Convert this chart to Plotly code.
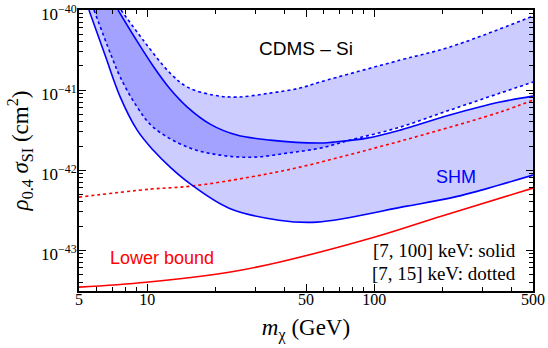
import plotly.graph_objects as go

# SHM band, [7, 100] keV (solid)
m_solid_low = [5.53, 6.51, 7.60, 9.02, 10.6, 12.6, 15.3, 22.9, 38.0, 55.9, 139, 215, 275, 500]
s_solid_low = [1.0e-40, 2.74e-41, 8.18e-42, 3.16e-42, 1.78e-42, 1.09e-42, 6.88e-43, 3.35e-43,
               2.37e-43, 2.24e-43, 3.55e-43, 4.47e-43, 5.31e-43, 8.66e-43]
m_solid_up = [7.43, 8.83, 10.6, 12.6, 15.0, 18.9, 24.8, 34.7, 57.6, 65.8, 92.8, 130, 215, 358, 500]
s_solid_up = [1.0e-40, 4.47e-41, 2.0e-41, 1.03e-41, 6.13e-42, 3.76e-42, 2.74e-42, 2.37e-42,
              2.18e-42, 2.24e-42, 2.51e-42, 3.16e-42, 4.87e-42, 7.08e-42, 8.41e-42]

# SHM band, [7, 15] keV (dotted)
m_dot_low = [5.82, 6.92, 7.60, 9.02, 10.6, 15.0, 20.9, 29.2, 41.2, 57.6, 78.1, 130, 215, 358, 500]
s_dot_low = [1.0e-40, 2.74e-41, 1.45e-41, 6.13e-42, 3.45e-42, 1.94e-42, 1.54e-42, 1.45e-42,
             1.63e-42, 1.88e-42, 2.37e-42, 3.45e-42, 5.62e-42, 9.17e-42, 1.26e-41]
m_dot_up = [7.66, 9.58, 12.6, 15.0, 19.5, 24.8, 34.7, 47.0, 57.6, 130, 215, 500]
s_dot_up = [1.0e-40, 4.22e-41, 1.63e-41, 1.09e-41, 8.66e-42, 8.18e-42, 9.17e-42, 1.06e-41,
            1.26e-41, 2.37e-41, 3.45e-41, 8.41e-41]

# lower bound
m_lb_dot = [5, 10.3, 15.6, 28.3, 47.0, 92.8, 181, 358, 500]
s_lb_dot = [4.60e-43, 5.79e-43, 6.31e-43, 8.18e-43, 1.09e-42, 1.78e-42, 2.99e-42, 5.31e-42, 7.50e-42]
m_lb_solid = [5, 9.87, 22.9, 38.0, 99.7, 197, 500]
s_lb_solid = [3.45e-44, 3.98e-44, 5.31e-44, 7.08e-44, 1.45e-43, 2.66e-43, 5.96e-43]

x_ticks = [5, 10, 50, 100, 500]
y_ticks = [1e-43, 1e-42, 1e-41, 1e-40]
y_ticktext = ["10<sup>−43</sup>", "10<sup>−42</sup>", "10<sup>−41</sup>", "10<sup>−40</sup>"]

BLUE = "rgb(0,0,255)"
RED = "rgb(255,0,0)"
FILL = "rgba(0,0,255,0.2)"
SERIF = "Liberation Serif, Times New Roman, serif"
SANS = "Liberation Sans, Arial, sans-serif"

X_RANGE = [0.69897, 2.69897]
Y_RANGE = [-43.51, -39.9995]

fig = go.Figure()

# filled bands (their overlap comes out darker)
for (xl, yl, xu, yu) in [(m_solid_low, s_solid_low, m_solid_up, s_solid_up),
                         (m_dot_low, s_dot_low, m_dot_up, s_dot_up)]:
    fig.add_trace(go.Scatter(x=xl, y=yl, mode="lines", line=dict(width=0, shape="spline"),
                             hoverinfo="skip"))
    fig.add_trace(go.Scatter(x=xu, y=yu, mode="lines", line=dict(width=0, shape="spline"),
                             fill="tonexty", fillcolor=FILL, hoverinfo="skip"))

curves = [
    (m_lb_dot, s_lb_dot, RED, "dot"),
    (m_lb_solid, s_lb_solid, RED, "solid"),
    (m_dot_low, s_dot_low, BLUE, "dot"),
    (m_dot_up, s_dot_up, BLUE, "dot"),
    (m_solid_low, s_solid_low, BLUE, "solid"),
    (m_solid_up, s_solid_up, BLUE, "solid"),
]
for xs, ys, col, dash in curves:
    fig.add_trace(go.Scatter(x=xs, y=ys, mode="lines",
                             line=dict(color=col, width=1.6, dash=dash, shape="spline"),
                             hoverinfo="skip"))

# empty trace so the top/right frame axes get drawn
fig.add_trace(go.Scatter(x=[], y=[], xaxis="x2", yaxis="y2", hoverinfo="skip"))

x_minor = [v * d for d in (1, 10, 100) for v in range(2, 10)]
y_minor = [v * 10.0 ** e for e in range(-44, -40) for v in range(2, 10)]

common = dict(
    ticks="inside", ticklen=7, tickwidth=1, tickcolor="black",
    showline=True, linecolor="black", linewidth=2,
    showgrid=False, zeroline=False, automargin=False,
)
x_common = dict(common, type="log", range=X_RANGE, tickvals=x_ticks,
                minor=dict(tickvals=x_minor, ticks="inside", ticklen=4, tickcolor="black", showgrid=False))
y_common = dict(common, type="log", range=Y_RANGE, tickvals=y_ticks,
                minor=dict(tickvals=y_minor, ticks="inside", ticklen=4, tickcolor="black", showgrid=False))

fig.update_layout(
    xaxis=dict(
        x_common, ticktext=[str(v) for v in x_ticks], ticklabelstandoff=-7,
        ticklabeloverflow="allow",
        tickfont=dict(family=SERIF, size=16, color="black"),
        title=dict(text="<i>m</i><sub>χ</sub> (GeV)", font=dict(family=SERIF, size=23, color="black"),
                   standoff=12),
    ),
    yaxis=dict(
        y_common, ticktext=y_ticktext, ticklabelstandoff=-3, ticklabelshift=4,
        ticklabeloverflow="allow",
        tickfont=dict(family=SERIF, size=17, color="black"),
        title=dict(text="<i>ρ</i><sub>0.4</sub> <i>σ</i><sub>SI</sub> (cm<sup>2</sup>)",
                   font=dict(family=SERIF, size=23, color="black"), standoff=6),
    ),
    xaxis2=dict(x_common, overlaying="x", side="top", showticklabels=False),
    yaxis2=dict(y_common, overlaying="y", side="right", showticklabels=False),
)


def px(xp, yp):
    return (xp - 79) / 454, (291 - yp) / 281


labels = [
    ("CDMS – Si", 306, 48, SANS, 19, "black", "center"),
    ("SHM", 456, 177, SANS, 18, BLUE, "center"),
    ("Lower bound", 162, 258, SANS, 18, RED, "center"),
    ("[7, 100] keV: solid", 518, 250, SERIF, 19, "black", "right"),
    ("[7, 15] keV: dotted", 518, 273, SERIF, 19, "black", "right"),
]
for text, xp, yp, fam, size, col, anchor in labels:
    ax, ay = px(xp, yp)
    fig.add_annotation(x=ax, y=ay, xref="paper", yref="paper", text=text, showarrow=False,
                       xanchor=anchor, yanchor="middle", font=dict(family=fam, size=size, color=col))

fig.update_layout(
    width=548, height=348,
    margin=dict(l=79, r=15, t=10, b=57),
    paper_bgcolor="white", plot_bgcolor="white",
    showlegend=False,
)

fig.write_html("out.html", config={"displayModeBar": False},
               post_script="document.body.style.margin = '0';")
